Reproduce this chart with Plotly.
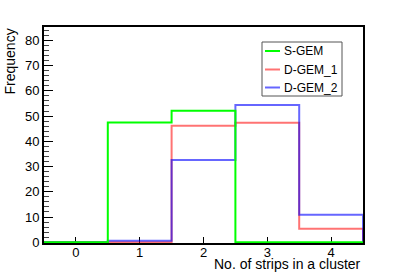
import plotly.graph_objects as go

# ---- data ----
bin_centers = [0, 1, 2, 3, 4]
series_names = ["S-GEM", "D-GEM_1", "D-GEM_2"]
s_gem = [0, 47.5, 52.1, 0, 0]
d_gem_1 = [0, 0, 46.2, 47.4, 5.3]
d_gem_2 = [0, 0.6, 32.6, 54.4, 10.9]
x_ticks = [0, 1, 2, 3, 4]
y_ticks = [0, 10, 20, 30, 40, 50, 60, 70, 80]
x_title = "No. of strips in a cluster"
y_title = "Frequency"

colors = ["#00ff00", "rgba(255,0,0,0.55)", "rgba(0,0,255,0.6)"]
series = [s_gem, d_gem_1, d_gem_2]

W, H = 403, 275
L, R, T, B = 44, 40, 27, 32
PW, PH = W - L - R, H - T - B
FONT = "Liberation Sans, Arial, Helvetica, sans-serif"


def px(xp):
    return (xp - L) / PW


def py(yp):
    return (H - B - yp) / PH


def step_path(centers, values):
    half = (centers[1] - centers[0]) / 2
    edges = [c - half for c in centers] + [centers[-1] + half]
    xs = [edges[0]] + edges[1:] + [edges[-1]]
    ys = [0] + list(values) + [0]
    return xs, ys


fig = go.Figure()
order = [1, 2, 0]  # red, blue, then green on top
for i in order:
    xs, ys = step_path(bin_centers, series[i])
    fig.add_trace(go.Scatter(x=xs, y=ys, mode="lines", line_shape="vh",
                             line=dict(color=colors[i], width=2),
                             name=series_names[i], showlegend=False,
                             hoverinfo="skip"))

half = (bin_centers[1] - bin_centers[0]) / 2
fig.update_layout(
    width=W, height=H,
    margin=dict(l=L, r=R, t=T, b=B, pad=0),
    paper_bgcolor="white", plot_bgcolor="white",
    font=dict(family=FONT, size=13, color="black"),
    showlegend=False,
    xaxis=dict(range=[bin_centers[0] - half, bin_centers[-1] + half],
               tickvals=x_ticks, ticks="inside", ticklen=6, tickwidth=1,
               tickcolor="black", showgrid=False, zeroline=False,
               showline=True, linecolor="black", linewidth=2, mirror=True,
               layer="below traces", tickfont=dict(size=13),
               ticklabelstandoff=-4),
    yaxis=dict(range=[-0.3, 85.3], tickvals=y_ticks, ticks="inside",
               ticklen=9, tickwidth=1, tickcolor="black",
               minor=dict(dtick=2, ticks="inside", ticklen=5,
                          tickcolor="#444", tickwidth=1),
               showgrid=False, zeroline=False, showline=True,
               linecolor="black", linewidth=2, mirror=True,
               layer="below traces", tickfont=dict(size=13)),
)

# axis titles (ROOT style, aligned to axis ends)
fig.add_annotation(text=x_title, xref="paper", yref="paper",
                   x=px(362.5), y=py(263.5), xanchor="right", yanchor="middle",
                   showarrow=False, font=dict(size=14))
fig.add_annotation(text=y_title, xref="paper", yref="paper",
                   x=px(9.5), y=py(27), xanchor="center", yanchor="top",
                   textangle=-90, showarrow=False, font=dict(size=14))

# legend box
fig.add_shape(type="rect", xref="paper", yref="paper",
              x0=px(262), x1=px(342), y0=py(42), y1=py(96),
              line=dict(color="#555", width=1), fillcolor="white",
              layer="above")
rows = [51, 69.5, 87.5]
for name, col, ry in zip(series_names, colors, rows):
    fig.add_shape(type="line", xref="paper", yref="paper",
                  x0=px(265), x1=px(280), y0=py(ry), y1=py(ry),
                  line=dict(color=col, width=2), layer="above")
    fig.add_annotation(text=name, xref="paper", yref="paper",
                       x=px(282), y=py(ry), xanchor="left", yanchor="middle",
                       showarrow=False, font=dict(size=12))

fig.write_html("out.html", config={"displayModeBar": False},
               post_script="document.body.style.margin='0';"
                           "document.body.style.overflow='hidden';")
